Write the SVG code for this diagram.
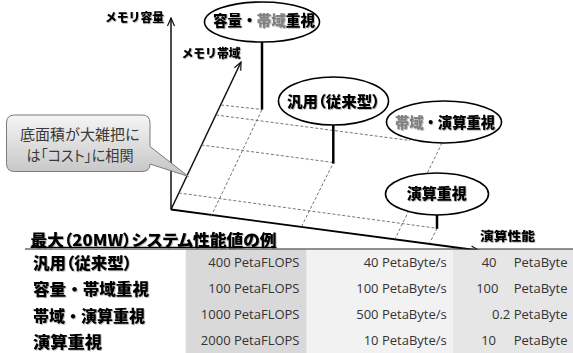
<svg xmlns="http://www.w3.org/2000/svg" width="573" height="353" viewBox="0 0 573 353">
<defs>
<style>
.jp{font-family:"Noto Sans CJK JP","Noto Sans CJK SC",sans-serif;}
.b{font-weight:900;fill:#000;filter:url(#sh);}
.g{fill:#808080;}
.num{font-family:"Open Sans","Liberation Sans",sans-serif;font-size:13px;fill:#333;text-anchor:end;}
.dash{fill:none;stroke:#666;stroke-width:0.9;stroke-dasharray:3,2;}
.pole{stroke:#000;stroke-width:2.5;fill:none;}
.axis{fill:none;stroke:#111;stroke-width:1.5;marker-end:url(#arr);}
.ell{fill:#fff;stroke:#000;stroke-width:1.6;}
.palt{font-feature-settings:"palt";}
</style>
<marker id="arr" markerWidth="10" markerHeight="10" refX="9" refY="5" orient="auto" markerUnits="userSpaceOnUse">
<path d="M1,1.5 L9,5 L1,8.5" fill="none" stroke="#111" stroke-width="1.2"/>
</marker>
<linearGradient id="cg" x1="0" y1="0" x2="0" y2="1">
<stop offset="0" stop-color="#f5f5f5"/>
<stop offset="1" stop-color="#c4c4c4"/>
</linearGradient>
<filter id="sh" x="-10%" y="-30%" width="120%" height="160%">
<feDropShadow dx="0.8" dy="0.8" stdDeviation="0.7" flood-color="#000" flood-opacity="0.35"/>
</filter>
</defs>
<rect width="573" height="353" fill="#fff"/>

<g id="connectors">
<line class="axis" x1="171" y1="209.5" x2="171" y2="18"/>
<line class="axis" x1="171" y1="209.5" x2="241" y2="62"/>
<line class="axis" x1="171" y1="209.5" x2="479" y2="250.5" style="stroke:#000;stroke-width:1.8"/>
<line class="dash" x1="221" y1="105" x2="262" y2="109.5"/>
<line class="dash" x1="216" y1="115" x2="410" y2="140.5"/>
<line class="dash" x1="201.5" y1="145" x2="333.3" y2="162.5"/>
<line class="dash" x1="178.8" y1="193" x2="437" y2="228.3"/>
<line class="dash" x1="211" y1="216.5" x2="262" y2="109.5"/>
<line class="dash" x1="301.5" y1="226.5" x2="333.3" y2="163"/>
<line class="dash" x1="442" y1="143" x2="395" y2="239"/>
<line class="dash" x1="437" y1="228.3" x2="430" y2="242.5"/>
<line class="pole" x1="262" y1="41" x2="262" y2="109.5"/>
<line class="pole" x1="333.3" y1="124" x2="333.3" y2="163.5"/>
<line class="pole" x1="437" y1="214" x2="437" y2="228.8"/>
</g>

<g id="axis-labels" class="jp">
<text class="b" x="105" y="22" font-size="12" textLength="59" lengthAdjust="spacingAndGlyphs">メモリ容量</text>
<text class="b" x="181.5" y="58" font-size="12" textLength="59" lengthAdjust="spacingAndGlyphs">メモリ帯域</text>
<text class="b" x="480" y="241" font-size="12" textLength="55" lengthAdjust="spacingAndGlyphs">演算性能</text>
</g>

<g id="node-capacity-bandwidth">
<ellipse class="ell" cx="262" cy="22" rx="57.5" ry="20"/>
<text class="jp b" x="264" y="26" font-size="15" text-anchor="middle" textLength="102" lengthAdjust="spacingAndGlyphs">容量・<tspan class="g">帯域</tspan>重視</text>
</g>

<g id="node-general">
<ellipse class="ell" cx="333.5" cy="101" rx="55" ry="24"/>
<text class="jp b palt" x="333.5" y="106.5" font-size="15" text-anchor="middle" textLength="93" lengthAdjust="spacingAndGlyphs">汎用（従来型）</text>
</g>

<g id="node-bandwidth-compute">
<ellipse class="ell" cx="444" cy="122" rx="57.5" ry="21"/>
<text class="jp b" x="445" y="128" font-size="15" text-anchor="middle" textLength="100" lengthAdjust="spacingAndGlyphs"><tspan class="g">帯域</tspan>・演算重視</text>
</g>

<g id="node-compute">
<ellipse class="ell" cx="437" cy="194" rx="51.5" ry="21"/>
<text class="jp b" x="436.7" y="199" font-size="15" text-anchor="middle" textLength="60" lengthAdjust="spacingAndGlyphs">演算重視</text>
</g>

<g id="callout">
<path d="M14.5,115 H142 Q150,115 150,123 V146.5 L188.5,176.5 L150,164 Q150,171.5 142,171.5 H14.5 Q6.5,171.5 6.5,163.5 V123 Q6.5,115 14.5,115 Z" fill="url(#cg)" stroke="#7a7a7a" stroke-width="1"/>
<text class="jp" x="80" y="140" font-size="15" fill="#3a3a3a" text-anchor="middle" textLength="120" lengthAdjust="spacingAndGlyphs">底面積が大雑把に</text>
<text class="jp palt" x="80" y="161" font-size="15" fill="#3a3a3a" text-anchor="middle" textLength="107" lengthAdjust="spacingAndGlyphs">は「コスト」に相関</text>
</g>

<g id="table">
<rect x="185.7" y="249.5" width="121" height="104" fill="#d9d9d9"/>
<rect x="306.7" y="249.5" width="146.3" height="104" fill="#f2f2f2"/>
<rect x="453" y="249.5" width="120" height="104" fill="#e6e6e6"/>
<line x1="25" y1="249" x2="573" y2="249" stroke="#222" stroke-width="1"/>
<text class="jp b palt" x="30.5" y="245.5" font-size="16" textLength="246" lengthAdjust="spacingAndGlyphs">最大（20MW）システム性能値の例</text>
<line x1="30.5" y1="247.3" x2="276.5" y2="247.3" stroke="#000" stroke-width="1.3"/>

<g id="row-general">
<text class="jp b palt" x="33" y="269" font-size="16" textLength="99" lengthAdjust="spacingAndGlyphs">汎用（従来型）</text>
<text class="num" x="299.5" y="267">400 PetaFLOPS</text>
<text class="num" x="446.7" y="267">40 PetaByte/s</text>
<text class="num" x="496.5" y="267">40</text>
<text class="num" x="567.5" y="267">PetaByte</text>
</g>
<g id="row-capacity-bandwidth">
<text class="jp b" x="33" y="295" font-size="16" textLength="116" lengthAdjust="spacingAndGlyphs">容量・帯域重視</text>
<text class="num" x="299.5" y="293">100 PetaFLOPS</text>
<text class="num" x="446.7" y="293">100 PetaByte/s</text>
<text class="num" x="498.5" y="293">100</text>
<text class="num" x="567.5" y="293">PetaByte</text>
</g>
<g id="row-bandwidth-compute">
<text class="jp b" x="33" y="321.5" font-size="16" textLength="112" lengthAdjust="spacingAndGlyphs">帯域・演算重視</text>
<text class="num" x="299.5" y="319">1000 PetaFLOPS</text>
<text class="num" x="446.7" y="319">500 PetaByte/s</text>
<text class="num" x="567.5" y="319">0.2 PetaByte</text>
</g>
<g id="row-compute">
<text class="jp b" x="33" y="347.5" font-size="16" textLength="69" lengthAdjust="spacingAndGlyphs">演算重視</text>
<text class="num" x="299.5" y="345">2000 PetaFLOPS</text>
<text class="num" x="446.7" y="345">10 PetaByte/s</text>
<text class="num" x="496" y="345">10</text>
<text class="num" x="567.5" y="345">PetaByte</text>
</g>
</g>
</svg>
